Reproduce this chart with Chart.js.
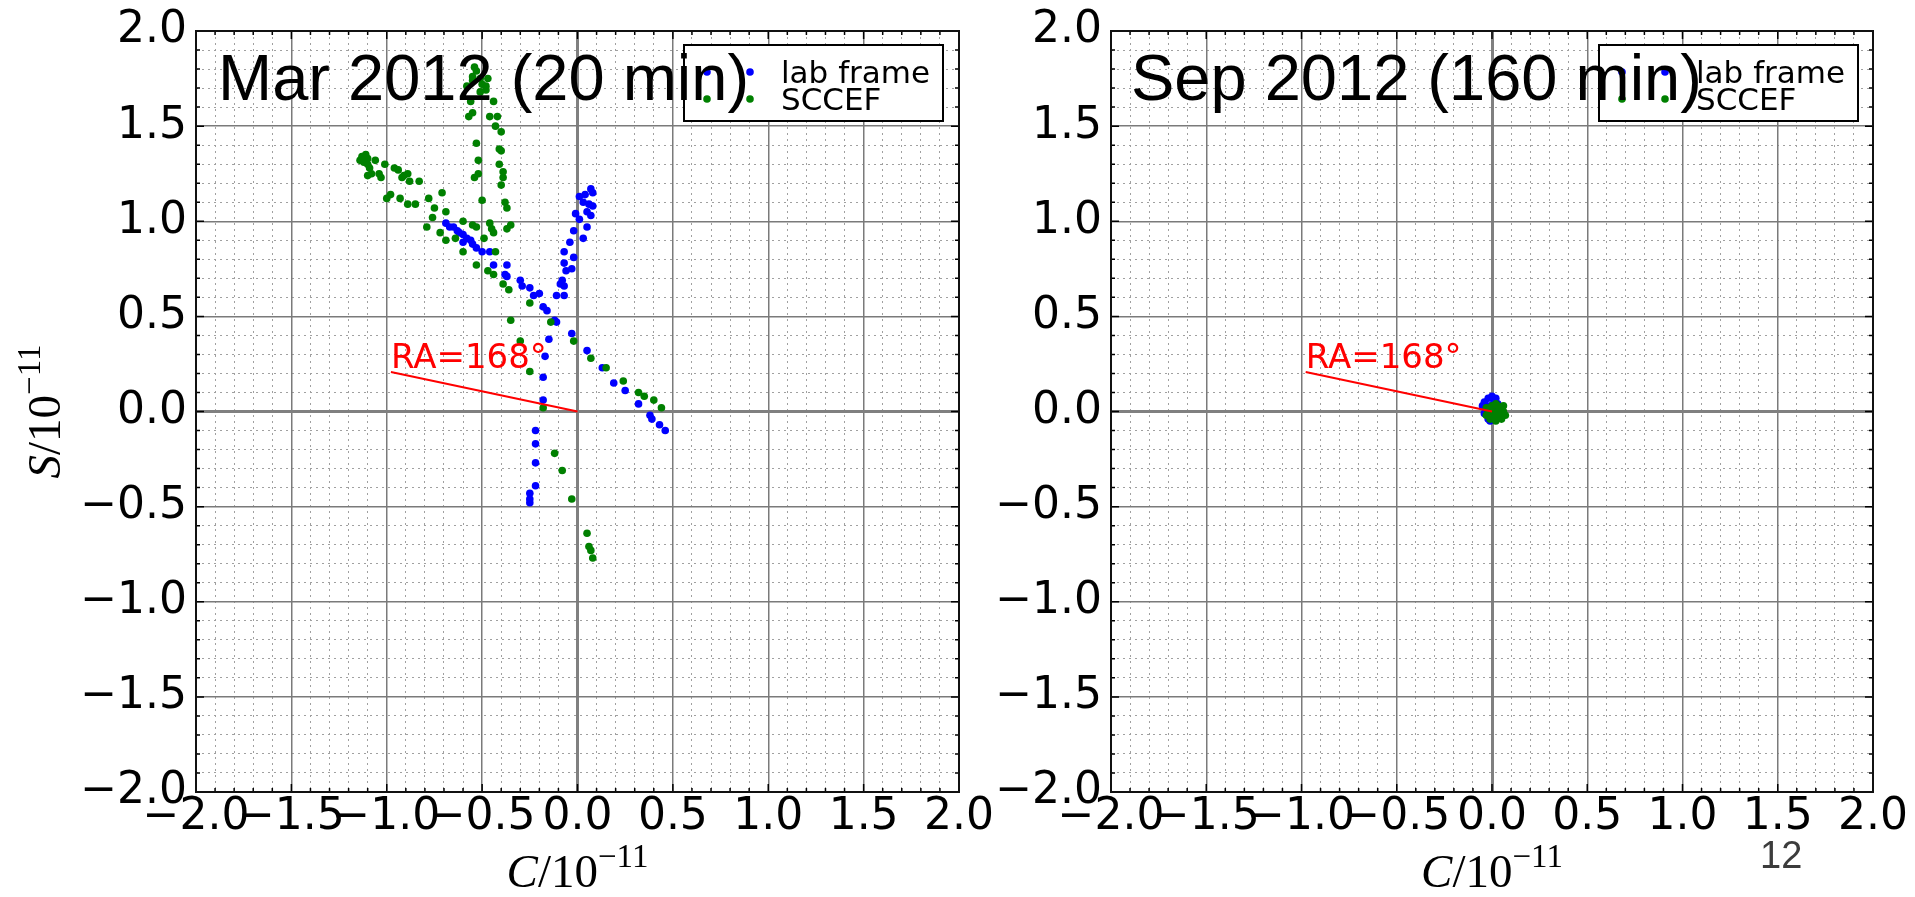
<!DOCTYPE html>
<html>
<head>
<meta charset="utf-8">
<script src="https://cdn.jsdelivr.net/npm/chart.js@4"></script>
<style>
  html, body { margin: 0; padding: 0; background: #fff; }
  body { width: 1915px; height: 897px; position: relative; overflow: hidden; }
  canvas { position: absolute; top: 0; }
  #mar { left: 0; }
  #sep { left: 990px; }
  #page { position: absolute; left: 1760px; top: 836px; font: 38px/1 "Liberation Sans", Arial, sans-serif; color: #3c3c3c; }
</style>
</head>
<body>
<canvas id="mar" width="1060" height="897"></canvas>
<canvas id="sep" width="925" height="897"></canvas>
<div id="page">12</div>
<script>
// valeurs, en unités de 1e-11 : [C, S]
const majorTicks = [-2, -1.5, -1, -0.5, 0, 0.5, 1, 1.5, 2];
const seriesLabels = ['lab frame', 'SCCEF'];
const panelTitles = ['Mar 2012 (20 min)', 'Sep 2012 (160 min)'];

const marLab = [
  [0.01,1.13],[0.04,1.14],[0.07,1.17],[0.08,1.15],[0.03,1.10],[0.06,1.09],[0.08,1.08],[0.05,1.05],
  [0.07,1.03],[-0.01,1.04],[0.01,1.01],[-0.02,0.95],[0.05,0.97],[-0.04,0.89],[0.03,0.91],[-0.07,0.84],
  [-0.02,0.81],[-0.07,0.78],[-0.03,0.75],[-0.06,0.74],[-0.08,0.69],[-0.09,0.67],[-0.07,0.66],[-0.11,0.61],
  [-0.07,0.61],
  [-0.69,0.99],[-0.67,0.97],[-0.65,0.97],[-0.63,0.95],[-0.62,0.94],[-0.60,0.93],[-0.58,0.91],[-0.56,0.90],
  [-0.60,0.89],[-0.55,0.88],[-0.53,0.86],[-0.50,0.84],[-0.46,0.84],[-0.44,0.77],[-0.37,0.77],[-0.38,0.72],
  [-0.37,0.71],[-0.30,0.69],[-0.29,0.66],[-0.25,0.65],[-0.23,0.61],[-0.20,0.62],
  [-0.18,0.55],[-0.16,0.53],[-0.12,0.48],[-0.11,0.47],[-0.03,0.41],[-0.15,0.38],[-0.17,0.29],[-0.18,0.18],
  [-0.18,0.06],
  [0.05,0.32],[0.13,0.23],[0.19,0.15],[0.25,0.11],[0.32,0.04],[0.38,-0.02],[0.39,-0.04],[0.43,-0.07],[0.46,-0.10],
  [-0.22,-0.10],[-0.22,-0.17],[-0.22,-0.27],[-0.22,-0.39],[-0.25,-0.43],[-0.25,-0.46],[-0.25,-0.48]
];

const marSccef = [
  [-0.54,1.81],[-0.53,1.79],[-0.55,1.76],[-0.51,1.75],[-0.55,1.74],[-0.50,1.72],[-0.47,1.75],[-0.48,1.71],
  [-0.58,1.71],[-0.48,1.69],[-0.51,1.68],[-0.44,1.63],[-0.56,1.63],[-0.55,1.57],[-0.57,1.55],[-0.46,1.55],
  [-0.42,1.55],[-0.43,1.50],[-0.40,1.47],[-0.53,1.41],[-0.41,1.38],[-0.40,1.37],[-0.52,1.32],[-0.41,1.30],
  [-0.52,1.25],[-0.39,1.26],[-0.54,1.23],[-0.39,1.23],[-0.40,1.19],[-0.50,1.11],[-0.38,1.10],[-0.37,1.07],
  [-0.46,0.99],[-0.45,0.96],[-0.35,0.98],[-0.37,0.96],[-0.44,0.94],[-0.43,0.84],
  [-1.13,1.34],[-1.11,1.35],[-1.14,1.32],[-1.12,1.31],[-1.10,1.33],[-1.10,1.30],[-1.09,1.28],[-1.08,1.25],
  [-1.10,1.24],[-1.06,1.32],[-1.04,1.25],[-1.03,1.23],[-1.01,1.30],[-0.96,1.28],[-0.94,1.27],[-0.91,1.24],
  [-0.89,1.25],[-0.92,1.23],[-0.88,1.21],[-0.83,1.21],[-0.98,1.14],[-0.93,1.12],[-1.00,1.12],[-0.89,1.09],
  [-0.85,1.09],[-0.78,1.12],[-0.71,1.15],[-0.75,1.07],[-0.69,1.05],[-0.76,1.02],[-0.79,0.97],[-0.72,0.94],
  [-0.69,0.90],[-0.64,0.91],[-0.60,0.84],[-0.53,0.77],[-0.47,0.74],[-0.44,0.72],[-0.39,0.67],[-0.36,0.64],
  [-0.60,1.00],[-0.55,0.98],[-0.53,0.97],[-0.49,0.91],
  [-0.25,0.57],[-0.35,0.48],[-0.14,0.47],[-0.30,0.37],[-0.25,0.21],[-0.02,0.37],[0.07,0.28],[0.15,0.23],
  [0.24,0.16],[0.32,0.10],[0.35,0.08],[0.40,0.06],[0.44,0.02],[-0.18,0.02],
  [-0.12,-0.22],[-0.08,-0.31],[-0.03,-0.46],[0.05,-0.64],[0.06,-0.71],[0.07,-0.73],[0.08,-0.77]
];

const sepLab = [
  [-0.04,0.05],[-0.02,0.07],[0.00,0.08],[0.02,0.07],[-0.05,0.03],[0.01,0.05],[-0.03,0.02],[0.03,0.04],
  [-0.01,0.03],[0.00,0.00],[-0.04,-0.01],[-0.02,-0.04],[0.02,0.01],[0.03,-0.02],[-0.01,-0.05]
];

const sepSccef = [
  [-0.03,0.02],[0.00,0.03],[0.03,0.03],[0.05,0.02],[0.06,0.00],[0.07,-0.02],[0.05,-0.04],[0.02,-0.05],
  [-0.01,-0.04],[-0.03,-0.02],[0.00,0.00],[0.03,0.00],[0.04,-0.02],[0.01,-0.02],[-0.02,0.00],[0.02,0.04],
  [0.06,0.03]
];

// direction RA = 168 deg
const raLine = [[0, 0], [-0.978, 0.208]];
const raText = 'RA=168°';
const raTextAt = [-0.978, 0.23];

const toPoints = arr => arr.map(([x, y]) => ({ x, y }));
const isHalf = v => Math.abs(v * 2 - Math.round(v * 2)) < 1e-6;
const fmt = v => (Math.abs(v) < 1e-9 ? '0.0' : Number(v).toFixed(1).replace('-', '\u2212'));

function drawMathLabel(ctx, letter, cx, baseline) {
  const f1 = 'italic 47px "Liberation Serif"';
  const f2 = '47px "Liberation Serif"';
  const f3 = '33px "Liberation Serif"';
  ctx.font = f1; const w1 = ctx.measureText(letter).width;
  ctx.font = f2; const w2 = ctx.measureText('/10').width;
  ctx.font = f3; const w3 = ctx.measureText('\u221211').width;
  let x = cx - (w1 + w2 + w3) / 2;
  ctx.textAlign = 'left';
  ctx.textBaseline = 'alphabetic';
  ctx.fillStyle = '#000';
  ctx.font = f1; ctx.fillText(letter, x, baseline); x += w1;
  ctx.font = f2; ctx.fillText('/10', x, baseline); x += w2;
  ctx.font = f3; ctx.fillText('\u221211', x, baseline - 20);
}

const decor = {
  id: 'decor',
  afterDraw(chart, args, opts) {
    const { ctx, chartArea: a, scales } = chart;
    const xm = scales.xMinor, ym = scales.yMinor;
    ctx.save();

    // ticks vers l'intérieur sur les 4 côtés
    ctx.strokeStyle = '#000';
    ctx.lineWidth = 1.5;
    ctx.beginPath();
    xm.ticks.forEach(t => {
      const px = xm.getPixelForValue(t.value);
      const len = isHalf(t.value) ? 8 : 4;
      ctx.moveTo(px, a.bottom); ctx.lineTo(px, a.bottom - len);
      ctx.moveTo(px, a.top); ctx.lineTo(px, a.top + len);
    });
    ym.ticks.forEach(t => {
      const py = ym.getPixelForValue(t.value);
      const len = isHalf(t.value) ? 8 : 4;
      ctx.moveTo(a.left, py); ctx.lineTo(a.left + len, py);
      ctx.moveTo(a.right, py); ctx.lineTo(a.right - len, py);
    });
    ctx.stroke();

    // cadre
    ctx.lineWidth = 2;
    ctx.strokeStyle = '#111';
    ctx.strokeRect(a.left, a.top, a.right - a.left, a.bottom - a.top);

    // étiquette RA
    ctx.fillStyle = '#ff0000';
    ctx.font = '34px "DejaVu Sans"';
    ctx.textAlign = 'left';
    ctx.textBaseline = 'alphabetic';
    ctx.fillText(raText, scales.x.getPixelForValue(raTextAt[0]), scales.y.getPixelForValue(raTextAt[1]));

    // légende
    const lx = a.left + 488, ly = a.top + 14, lw = 259, lh = 76;
    ctx.fillStyle = '#fff';
    ctx.fillRect(lx, ly, lw, lh);
    ctx.strokeStyle = '#000';
    ctx.lineWidth = 2;
    ctx.strokeRect(lx, ly, lw, lh);
    chart.data.datasets.slice(0, 2).forEach((d, i) => {
      const cy = ly + 27 + i * 27;
      ctx.fillStyle = d.backgroundColor;
      [23, 66].forEach(dx => {
        ctx.beginPath();
        ctx.arc(lx + dx, cy, 3.8, 0, Math.PI * 2);
        ctx.fill();
      });
      ctx.fillStyle = '#000';
      ctx.font = '31px "DejaVu Sans"';
      ctx.fillText(d.label, lx + 97, cy + 10.5);
    });

    // titres des axes
    drawMathLabel(ctx, 'C', (a.left + a.right) / 2, a.bottom + 95);
    if (opts.yTitle) {
      ctx.save();
      ctx.translate(60, (a.top + a.bottom) / 2);
      ctx.rotate(-Math.PI / 2);
      drawMathLabel(ctx, 'S', 0, 0);
      ctx.restore();
    }

    // titre du panneau (texte de la diapo)
    ctx.fillStyle = '#000';
    ctx.font = '65px "Liberation Sans"';
    ctx.textAlign = 'left';
    ctx.textBaseline = 'alphabetic';
    ctx.fillText(opts.title, a.left + opts.titleDx, 100);

    ctx.restore();
  }
};

function makeScales(yWidth) {
  const tickFont = { family: 'DejaVu Sans', size: 44, lineHeight: 1 };
  const majorColor = c => (Math.abs(c.tick.value) < 1e-9 ? '#808080' : '#7a7a7a');
  const majorWidth = c => (Math.abs(c.tick.value) < 1e-9 ? 3 : 1.5);
  const minorColor = c => (isHalf(c.tick.value) ? 'rgba(0,0,0,0)' : '#a0a0a0');
  return {
    xMinor: {
      type: 'linear', position: 'bottom', min: -2, max: 2,
      ticks: { display: false, stepSize: 0.1 },
      grid: { drawTicks: false, color: minorColor, lineWidth: 1 },
      border: { display: false, dash: [2, 4] },
      afterFit: s => { s.height = 0; }
    },
    yMinor: {
      type: 'linear', position: 'left', min: -2, max: 2,
      ticks: { display: false, stepSize: 0.1 },
      grid: { drawTicks: false, color: minorColor, lineWidth: 1 },
      border: { display: false, dash: [2, 4] },
      afterFit: s => { s.width = 0; }
    },
    x: {
      type: 'linear', position: 'bottom', min: -2, max: 2,
      afterBuildTicks: s => { s.ticks = majorTicks.map(v => ({ value: v })); },
      ticks: { autoSkip: false, maxRotation: 0, padding: 4, color: '#000', font: tickFont, callback: fmt },
      grid: { drawTicks: false, color: majorColor, lineWidth: majorWidth },
      border: { display: false },
      afterFit: s => { s.height = 105; }
    },
    y: {
      type: 'linear', position: 'left', min: -2, max: 2,
      afterBuildTicks: s => { s.ticks = majorTicks.map(v => ({ value: v })); },
      ticks: { autoSkip: false, padding: 9, color: '#000', font: tickFont, callback: fmt },
      grid: { drawTicks: false, color: majorColor, lineWidth: majorWidth },
      border: { display: false },
      afterFit: s => { s.width = yWidth; }
    }
  };
}

function buildPanel(id, lab, sccef, title, yWidth, padRight, titleDx, yTitle) {
  const ctxt = document.getElementById(id).getContext('2d');
  return new Chart(ctxt, {
    type: 'scatter',
    data: {
      datasets: [
        { label: seriesLabels[0], data: toPoints(lab), backgroundColor: '#0000ff', pointRadius: 3.8, pointBorderWidth: 0, order: 2 },
        { label: seriesLabels[1], data: toPoints(sccef), backgroundColor: '#008000', pointRadius: 3.8, pointBorderWidth: 0, order: 1 },
        { label: 'RA', data: toPoints(raLine), showLine: true, borderColor: '#ff0000', borderWidth: 2, pointRadius: 0, order: 0 }
      ]
    },
    options: {
      responsive: false,
      animation: false,
      events: [],
      layout: { padding: { top: 29, right: padRight, bottom: 0, left: 0 } },
      scales: makeScales(yWidth),
      plugins: {
        legend: { display: false },
        tooltip: { enabled: false },
        decor: { title, titleDx, yTitle }
      }
    },
    plugins: [decor]
  });
}

const setup = () => {
  buildPanel('mar', marLab, marSccef, panelTitles[0], 196, 101, 22, true);
  buildPanel('sep', sepLab, sepSccef, panelTitles[1], 121, 42, 20, false);
};

window.addEventListener('DOMContentLoaded', setup);
</script>
</body>
</html>
